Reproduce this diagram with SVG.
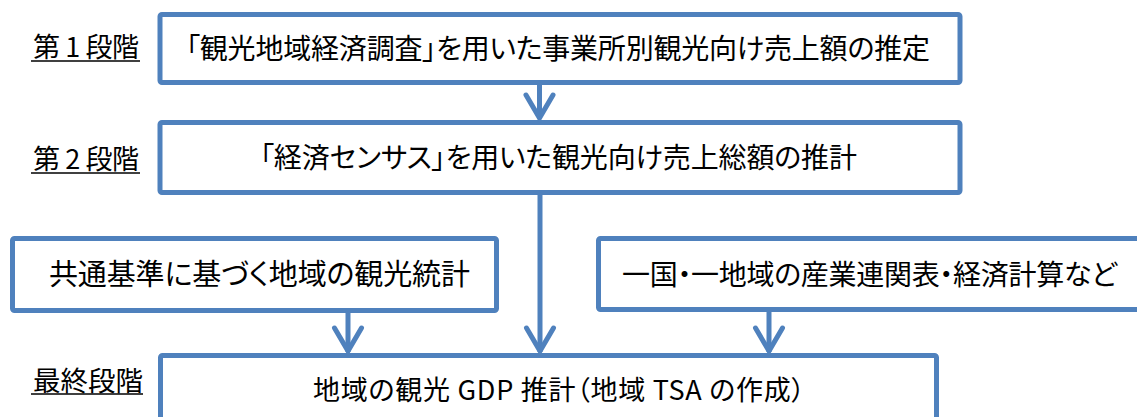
<svg xmlns="http://www.w3.org/2000/svg" width="1137" height="417" viewBox="0 0 1137 417">
<style>
.box{fill:#fff;stroke:#4F81BD;stroke-width:5}
.t{font-family:"Noto Sans CJK JP","Noto Sans",sans-serif;font-size:28px;fill:#000;font-feature-settings:"palt"}
.lbl{font-family:"Noto Sans CJK JP","Noto Sans",sans-serif;font-size:27px;fill:#000}
.ul{stroke:#000;stroke-width:1.6}
.conn{stroke:#4F81BD;stroke-width:5;fill:none}
</style>
<defs>
<marker id="ah" markerUnits="userSpaceOnUse" viewBox="-30 -18 34 36" markerWidth="34" markerHeight="36" refX="0" refY="0" orient="auto" overflow="visible">
<path d="M-24,-13.5 L-1,0 L-24,13.5" fill="none" stroke="#4F81BD" stroke-width="5" stroke-linecap="round" stroke-linejoin="miter"/>
</marker>
</defs>
<rect width="1137" height="417" fill="#fff"/>
<g id="label1">
<text class="lbl" x="33" y="57" textLength="106" lengthAdjust="spacing">第 1 段階</text>
<line class="ul" x1="31" y1="61" x2="140" y2="61"/>
</g>
<g id="label2">
<text class="lbl" x="33" y="169" textLength="106" lengthAdjust="spacing">第 2 段階</text>
<line class="ul" x1="31" y1="173" x2="140" y2="173"/>
</g>
<g id="label3">
<text class="lbl" x="33" y="391" textLength="110" lengthAdjust="spacingAndGlyphs">最終段階</text>
<line class="ul" x1="31" y1="394" x2="143" y2="394"/>
</g>
<g id="stage1">
<rect class="box" x="160" y="14.5" width="800" height="68" rx="2"/>
<text class="t" x="186" y="59" textLength="744" lengthAdjust="spacing">「観光地域経済調査」を用いた事業所別観光向け売上額の推定</text>
</g>
<g id="stage2">
<rect class="box" x="160" y="122.5" width="800" height="70" rx="2"/>
<text class="t" x="260" y="168" textLength="597" lengthAdjust="spacing">「経済センサス」を用いた観光向け売上総額の推計</text>
</g>
<g id="common">
<rect class="box" x="12.5" y="238.5" width="484" height="72" rx="2"/>
<text class="t" x="49" y="285" style="font-size:29px" textLength="421" lengthAdjust="spacing">共通基準に基づく地域の観光統計</text>
</g>
<g id="io">
<rect class="box" x="598.5" y="238.5" width="545" height="71" rx="2"/>
<text class="t" x="622" y="285" style="font-size:28px" textLength="495" lengthAdjust="spacing">一国・一地域の産業連関表・経済計算など</text>
</g>
<g id="final">
<rect class="box" x="160.5" y="355.5" width="776" height="100" rx="2"/>
<text class="t" x="313" y="400" style="font-size:27px" textLength="492" lengthAdjust="spacing">地域の観光 GDP 推計（地域 TSA の作成）</text>
</g>
<g id="connectors">
<line class="conn" x1="539.5" y1="85" x2="539.5" y2="119" marker-end="url(#ah)"/>
<line class="conn" x1="540" y1="195" x2="540" y2="352" marker-end="url(#ah)"/>
<line class="conn" x1="348" y1="313" x2="348" y2="352" marker-end="url(#ah)"/>
<line class="conn" x1="769" y1="312" x2="769" y2="352" marker-end="url(#ah)"/>
</g>
</svg>
